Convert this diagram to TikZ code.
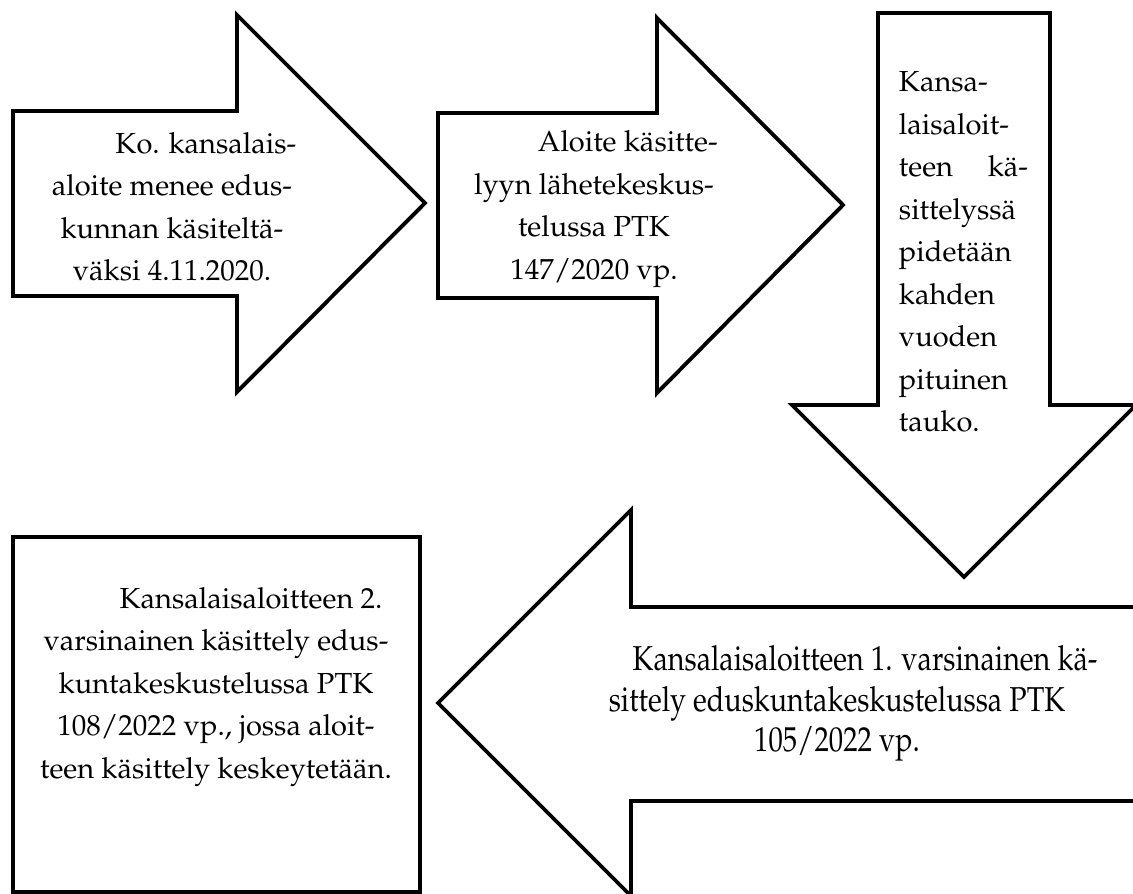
\documentclass[tikz,border=0pt]{standalone}
\IfFileExists{mathpazo.sty}{%
	\usepackage[T1]{fontenc}
	\usepackage{mathpazo}}{%
	\usepackage{fontspec}
	\setmainfont{Liberation Serif}}

\tikzset{
	arrowshape/.style={draw=black, line width=1.6pt, fill=white, line join=miter},
	steptext/.style={inner sep=0pt, font=\fontsize{12}{17.6}\selectfont},
	narrowtext/.style={inner sep=0pt, font=\fontsize{14.3}{16.6}\selectfont}
}

\begin{document}
\begin{tikzpicture}[x=0.4137pt,y=-0.4137pt]

		\useasboundingbox (0,0) rectangle (1133,894);
		\clip (0,0) rectangle (1133,894);

		% nuolet
		\draw[arrowshape] (13,111) -- (237,111) -- (237,15) -- (425,203) -- (237,392) -- (237,296) -- (13,296) -- cycle;
		\draw[arrowshape] (438,113) -- (657,113) -- (657,18) -- (843,205) -- (657,393) -- (657,298) -- (438,298) -- cycle;
		\draw[arrowshape] (878,13) -- (1050,13) -- (1050,405) -- (1136,405) -- (964,577) -- (792,405) -- (878,405) -- cycle;
		\draw[arrowshape] (1160,607) -- (631,607) -- (631,510) -- (438,703) -- (631,896) -- (631,801) -- (1160,801) -- cycle;
		\draw[arrowshape] (13,537) -- (420,537) -- (420,892) -- (13,892) -- cycle;

		% tekstit
		\node[steptext, align=center] (kansalaisaloite) at (172,207)
			{\hspace*{28pt}Ko. kansalais-\\aloite menee edus-\\kunnan käsiteltä-\\väksi 4.11.2020.};
		\node[steptext, align=center] (lahete) at (594,209)
			{\hspace*{28pt}Aloite käsitte-\\lyyn lähetekeskus-\\telussa PTK\\147/2020 vp.};
		\node[steptext, align=left, text width=53.4pt] (tauko) at (963.5,252)
			{Kansa-\\laisaloit-\\teen\hfill kä-\\sittelyssä\\pidetään\\kahden\\vuoden\\pituinen\\tauko.};
		\node[narrowtext] (kasittely1) at (837,703)
			{\scalebox{0.83}[1]{\begin{tabular}{@{}c@{}}\hspace*{28pt}Kansalaisaloitteen 1. varsinainen kä-\\sittely eduskuntakeskustelussa PTK\\105/2022 vp.\end{tabular}}};
		\node[steptext, align=center] (kasittely2) at (216,687)
			{\hspace*{29pt}Kansalaisaloitteen 2.\\varsinainen käsittely edus-\\kuntakeskustelussa PTK\\108/2022 vp., jossa aloit-\\teen käsittely keskeytetään.};

	\end{tikzpicture}
\end{document}
